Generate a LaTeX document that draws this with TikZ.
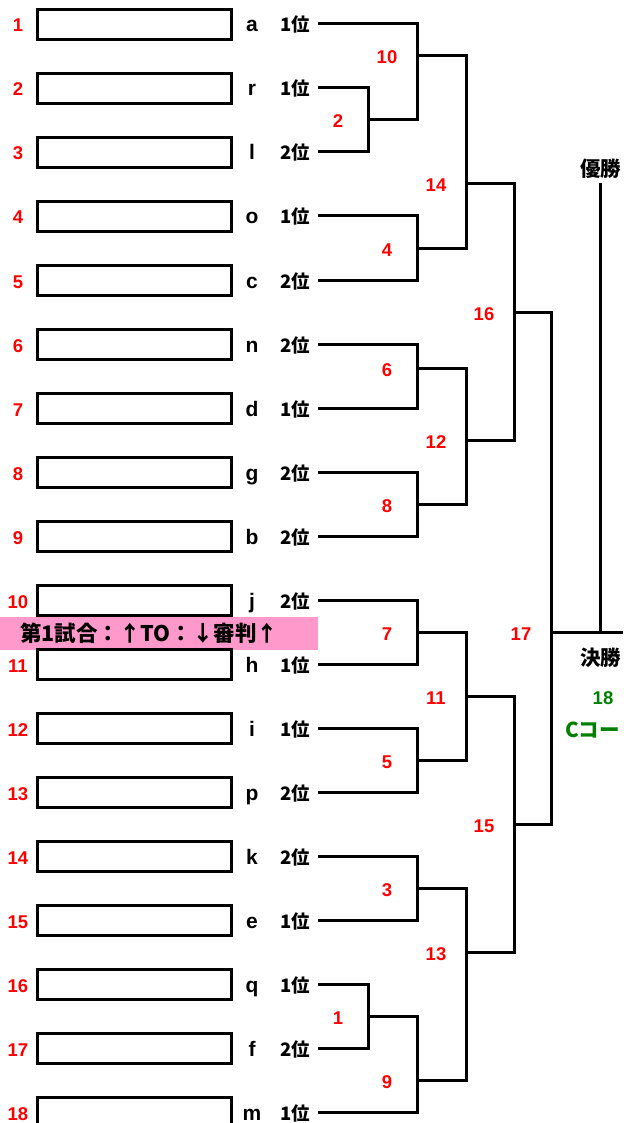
\documentclass[tikz,border=0pt]{standalone}
\usepackage{fontspec}
\setmainfont{Liberation Sans}
\newfontfamily\jp{Noto Sans CJK JP}
\definecolor{pinkband}{RGB}{255,153,204}
\definecolor{courtgreen}{RGB}{0,128,0}
\definecolor{numred}{RGB}{255,0,0}
\begin{document}
\begin{tikzpicture}[x=1pt,y=-1pt,
  entrybox/.style={draw, line width=3pt, minimum width=194pt, minimum height=30pt, inner sep=0pt, outer sep=0pt},
  seed/.style={text=numred, font=\bfseries\fontsize{18.5}{18.5}\selectfont, anchor=base, inner sep=0pt},
  team/.style={font=\bfseries\fontsize{21}{21}\selectfont, anchor=base, inner sep=0pt},
  rank/.style={font=\jp\bfseries\fontsize{18.5}{18.5}\selectfont, anchor=base, inner sep=0pt},
  jplabel/.style={font=\jp\bfseries\fontsize{20.5}{20.5}\selectfont, anchor=base west, inner sep=0pt},
  bracket/.style={line width=3pt, line join=miter},
]
\useasboundingbox (0,0) rectangle (623,1123);
\clip (0,0) rectangle (623,1123);
\fill[white] (0,0) rectangle (623,1123);

% pink band
\node[fill=pinkband, minimum width=318pt, minimum height=33pt, inner sep=0pt, outer sep=0pt, anchor=north west] (band) at (0,617) {};
\node[jplabel, font=\jp\bfseries\fontsize{21.5}{21.5}\selectfont] (bandtext) at (20,641) {第1試合：↑TO：↓審判↑};

% entries
\foreach \i/\lt/\rk in {1/a/1,2/r/1,3/l/2,4/o/1,5/c/2,6/n/2,7/d/1,8/g/2,9/b/2,10/j/2,11/h/1,12/i/1,13/p/2,14/k/2,15/e/1,16/q/1,17/f/2,18/m/1}{
  \pgfmathsetmacro\yy{24+64*(\i-1)}
  \node[seed] (n\i) at (18,\yy+8) {\i};
  \node[entrybox] (box\i) at (134.5,\yy+0.5) {};
  \node[team] (t\i) at (252,\yy+8) {\lt};
  \node[rank] (r\i) at (295,\yy+8) {\rk 位};
  \coordinate (s\i) at (318,\yy);
}

% match junctions
\coordinate (m1) at (368,1016);
\coordinate (m2) at (368,120);
\coordinate (m3) at (417,888);
\coordinate (m4) at (417,248);
\coordinate (m5) at (417,760);
\coordinate (m6) at (417,368);
\coordinate (m7) at (417,632);
\coordinate (m8) at (417,504);
\coordinate (m9) at (417,1080);
\coordinate (m10) at (417,56);
\coordinate (m11) at (466,696);
\coordinate (m12) at (466,440);
\coordinate (m13) at (466,952);
\coordinate (m14) at (466,184);
\coordinate (m15) at (514,824);
\coordinate (m16) at (514,312);
\coordinate (m17) at (551,632);
\coordinate (m18) at (600,632);
\coordinate (fin) at (623,632);
\coordinate (ytop) at (600,183);

\draw[bracket] (s16) -| (m1) |- (s17);
\draw[bracket] (s2) -| (m2) |- (s3);
\draw[bracket] (s14) -| (m3) |- (s15);
\draw[bracket] (s4) -| (m4) |- (s5);
\draw[bracket] (s12) -| (m5) |- (s13);
\draw[bracket] (s6) -| (m6) |- (s7);
\draw[bracket] (s10) -| (m7) |- (s11);
\draw[bracket] (s8) -| (m8) |- (s9);
\draw[bracket] (m1) -| (m9) |- (s18);
\draw[bracket] (s1) -| (m10) |- (m2);
\draw[bracket] (m7) -| (m11) |- (m5);
\draw[bracket] (m6) -| (m12) |- (m8);
\draw[bracket] (m3) -| (m13) |- (m9);
\draw[bracket] (m10) -| (m14) |- (m4);
\draw[bracket] (m11) -| (m15) |- (m13);
\draw[bracket] (m14) -| (m16) |- (m12);
\draw[bracket] (m16) -| (m17) |- (m15);
\draw[bracket] (m17) -- (fin);
\draw[bracket] (m18) -- (ytop);

% match numbers
\foreach \k in {1,...,17}{
  \path (m\k) ++(-30,8) node[seed] (L\k) {\k};
}

% final labels
\node[jplabel] (yusho) at (580,177) {優勝};
\node[jplabel] (kessho) at (580,665) {決勝};
\node[seed, text=courtgreen] (fno) at (603,704) {18};
\node[jplabel, text=courtgreen] (court) at (565,737) {Cコー};
\end{tikzpicture}
\end{document}
